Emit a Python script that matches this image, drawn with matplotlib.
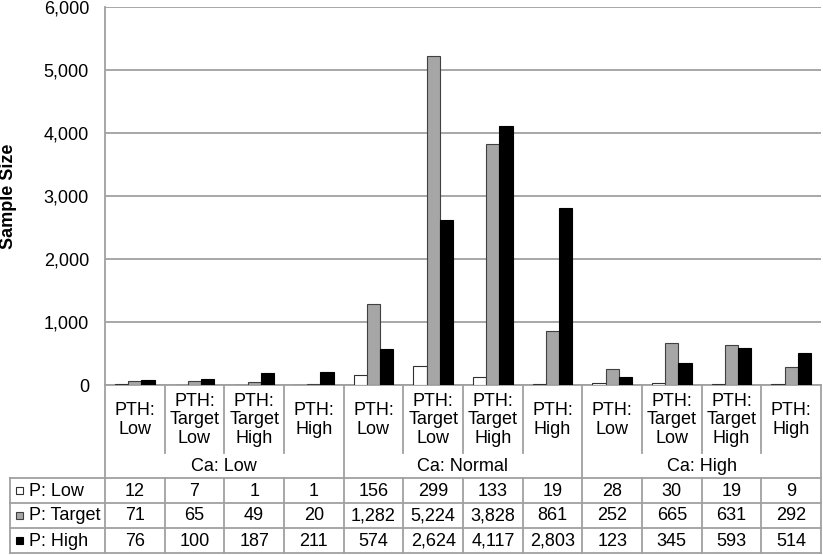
import matplotlib
matplotlib.use("Agg")
import matplotlib.pyplot as plt
import numpy as np

plt.rcParams['font.family'] = ['Liberation Sans', 'DejaVu Sans']

# ---- data ----
pth_labels = ["PTH:\nLow", "PTH:\nTarget\nLow", "PTH:\nTarget\nHigh", "PTH:\nHigh"]
ca_groups = ["Ca: Low", "Ca: Normal", "Ca: High"]
series_names = ["P: Low", "P: Target", "P: High"]
p_low = [12, 7, 1, 1, 156, 299, 133, 19, 28, 30, 19, 9]
p_target = [71, 65, 49, 20, 1282, 5224, 3828, 861, 252, 665, 631, 292]
p_high = [76, 100, 187, 211, 574, 2624, 4117, 2803, 123, 345, 593, 514]
yticks = [0, 1000, 2000, 3000, 4000, 5000, 6000]

series = [p_low, p_target, p_high]
colors = ["#FFFFFF", "#A6A6A6", "#000000"]
edges = ["#303030", "#404040", "#000000"]

W, H = 823, 555
fig = plt.figure(figsize=(W / 100, H / 100), dpi=100)

# pixel layout
x0, x1 = 105, 821
y_axis, y_top = 385, 7
y_cat_bot = 453
y_grp_bot = 478
row_h = 25
tab_left = 10
grid_col = "#A0A0A0"
fs = 13

ax = fig.add_axes([x0 / W, (H - y_axis) / H, (x1 - x0) / W, (y_axis - y_top) / H])
n = len(p_low)
x = np.arange(n)
bw = 0.223
for k, (vals, c, ec) in enumerate(zip(series, colors, edges)):
    ax.bar(x + (k - 1) * bw, vals, width=bw, color=c, edgecolor=ec, linewidth=0.8, zorder=3)

ax.set_xlim(-0.5, n - 0.5)
ax.set_ylim(0, 6000)
ax.set_yticks(yticks)
ax.set_yticklabels([f"{v:,}" for v in yticks], fontsize=fs)
ax.tick_params(axis='y', length=0, pad=11.5, colors='black')
ax.set_xticks([])
ax.yaxis.grid(True, color=grid_col, linewidth=1.3, zorder=0)
ax.set_axisbelow(True)
for s in ['top', 'right']:
    ax.spines[s].set_visible(False)
ax.spines['left'].set_color(grid_col)
ax.spines['left'].set_linewidth(1.3)
ax.spines['bottom'].set_color(grid_col)
ax.spines['bottom'].set_linewidth(1.3)

fig.text(8.5 / W, 1 - 196 / H, "Sample Size", rotation=90, ha='center', va='center',
         fontsize=13, fontweight='bold')

# ---- category labels and data table overlay ----
ov = fig.add_axes([0, 0, 1, 1], facecolor='none')
ov.set_xlim(0, W)
ov.set_ylim(H, 0)
ov.axis('off')

cw = (x1 - x0) / n
bounds = [x0 + k * cw for k in range(n + 1)]
lc = grid_col
lw = 1.3

# vertical separators
for k, bx in enumerate(bounds):
    if k == 0:
        continue
    if k % 4 == 0:
        ov.plot([bx, bx], [y_axis, y_grp_bot + 3 * row_h], color=lc, lw=lw)
    else:
        ov.plot([bx, bx], [y_axis, y_cat_bot], color=lc, lw=lw)
        ov.plot([bx, bx], [y_grp_bot, y_grp_bot + 3 * row_h], color=lc, lw=lw)
ov.plot([x0, x0], [y_axis, y_grp_bot + 3 * row_h], color=lc, lw=lw)
ov.plot([tab_left, tab_left], [y_grp_bot, y_grp_bot + 3 * row_h], color=lc, lw=lw)

# horizontal lines
for r in range(4):
    yy = y_grp_bot + r * row_h
    ov.plot([tab_left, x1], [yy, yy], color=lc, lw=lw)

# category labels
for i in range(n):
    cx = (bounds[i] + bounds[i + 1]) / 2
    ov.text(cx, (y_axis + y_cat_bot) / 2 + 1, pth_labels[i % 4], ha='center', va='center',
            fontsize=fs, linespacing=1.1)
for g, name in enumerate(ca_groups):
    cx = (bounds[4 * g] + bounds[4 * g + 4]) / 2
    ov.text(cx, (y_cat_bot + y_grp_bot) / 2 + 1, name, ha='center', va='center', fontsize=fs)

# table rows
for r, (name, vals, c, ec) in enumerate(zip(series_names, series, colors, edges)):
    cy = y_grp_bot + r * row_h + row_h / 2
    ov.add_patch(plt.Rectangle((16, cy - 3.5), 7, 7, facecolor=c, edgecolor=ec, lw=0.8))
    ov.text(29, cy + 0.5, name, ha='left', va='center', fontsize=fs)
    for i, v in enumerate(vals):
        cx = (bounds[i] + bounds[i + 1]) / 2
        ov.text(cx, cy + 0.5, f"{v:,}", ha='center', va='center', fontsize=fs)

fig.savefig("out.png", dpi=100)
